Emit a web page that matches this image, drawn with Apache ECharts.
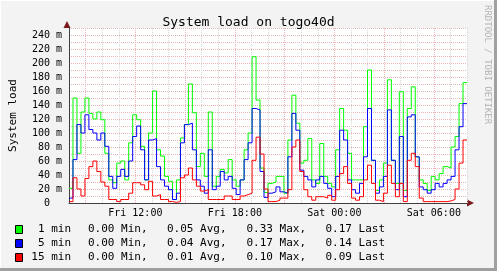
<!DOCTYPE html>
<html>
<head>
<meta charset="utf-8">
<script src="https://cdn.jsdelivr.net/npm/echarts@6/dist/echarts.min.js"></script>
<style>html,body{margin:0;padding:0;background:#f3f3f3}#c{width:497px;height:271px}</style>
</head>
<body>
<div id="c"></div>
<script>
// Time axis: hours since Fri 00:00; samples every 0.24 h from Fri 08:00
const startHour = 8;
const endHour = 32;
const stepHours = 0.24;
const tickHours = [12, 18, 24, 30];
const tickLabels = ['Fri 12:00', 'Fri 18:00', 'Sat 00:00', 'Sat 06:00'];
const majorHours = [9, 12, 15, 18, 21, 24, 27, 30];

// load values in milli-units (m)
const load1 = [21,150,71,130,150,128,120,130,119,71,33,29,57,60,33,86,126,119,81,33,
  100,160,76,67,38,31,5,33,93,112,170,129,52,71,38,130,24,38,48,43,
  62,33,24,33,76,100,209,147,50,15,28,30,38,38,14,90,154,114,57,61,
  92,33,28,85,38,28,23,76,135,104,71,33,33,33,109,190,61,18,33,57,
  176,61,28,159,18,135,166,66,33,28,18,38,33,42,52,50,80,95,142,172];
const load5 = [7,62,112,100,126,105,100,90,100,81,38,21,38,48,38,60,95,110,76,33,
  90,92,52,33,24,19,5,14,86,112,114,76,33,24,14,76,19,24,45,33,
  38,21,12,33,62,86,135,133,45,8,14,16,23,16,14,66,128,104,47,38,
  33,23,33,38,28,21,9,38,104,90,33,19,14,28,66,135,61,14,23,38,
  133,61,19,95,9,123,126,66,23,19,14,19,28,23,28,33,38,76,109,142];
const load15 = [2,36,20,10,35,52,60,45,30,24,5,5,2,5,5,14,29,29,26,19,
  31,10,12,5,5,2,1,2,36,40,50,33,24,17,19,5,5,5,5,10,
  10,5,5,10,12,14,61,94,70,20,2,2,4,7,7,19,80,90,45,19,
  9,4,9,9,7,11,4,19,42,52,28,7,4,9,33,54,28,4,2,14,
  54,28,9,28,2,61,71,52,7,2,2,2,2,2,2,3,5,20,57,90];

const seriesNames = ['1 min', '5 min', '15 min'];
const seriesColors = ['#00ff00', '#0000ff', '#ff0000'];
const statMin = ['0.00', '0.00', '0.00'];
const statAvg = ['0.05', '0.04', '0.01'];
const statMax = ['0.33', '0.17', '0.10'];
const statLast = ['0.17', '0.14', '0.09'];

function toPairs(arr) {
  const out = arr.map((v, i) => [startHour + i * stepHours, v]);
  out.push([endHour, arr[arr.length - 1]]);
  return out;
}

const mono = 'DejaVu Sans Mono';
const chart = echarts.init(document.getElementById('c'), null, {renderer: 'canvas'});

const legendGraphics = [];
const rowY = [229.5, 243.5, 257.5];
for (let k = 0; k < 3; k++) {
  legendGraphics.push({type: 'rect', shape: {x: 15.5, y: rowY[k] - 4, width: 7, height: 8},
    style: {fill: seriesColors[k], stroke: '#000', lineWidth: 1}});
  legendGraphics.push({type: 'text', x: 71, y: rowY[k],
    style: {text: seriesNames[k], font: '11px "' + mono + '"', fill: '#000', align: 'right', verticalAlign: 'middle'}});
  const cols = [[88, statMin[k] + ' Min,'], [167, statAvg[k] + ' Avg,'], [246.5, statMax[k] + ' Max,'], [325.5, statLast[k] + ' Last']];
  cols.forEach(c => legendGraphics.push({type: 'text', x: c[0], y: rowY[k],
    style: {text: c[1], font: '11px "' + mono + '"', fill: '#000', align: 'left', verticalAlign: 'middle'}}));
}

const option = {
  animation: false,
  backgroundColor: '#f3f3f3',
  title: {text: 'System load on togo40d', left: 'center', top: 11,
    textStyle: {fontFamily: mono, fontSize: 13, fontWeight: 'normal', color: '#000'}},
  grid: {left: 67, right: 30, top: 28, bottom: 68, show: true, backgroundColor: '#fff', borderWidth: 0},
  xAxis: {
    type: 'value', min: startHour, max: endHour, interval: 1,
    axisLine: {show: true, onZero: false, lineStyle: {color: '#404040', width: 1}},
    axisTick: {show: false},
    axisLabel: {margin: 5, fontFamily: mono, fontSize: 10, color: '#000',
      formatter: v => { const i = tickHours.indexOf(v); return i >= 0 ? tickLabels[i] : ''; }},
    splitLine: {show: true, lineStyle: {color: '#d6d6d6', type: [1, 1], width: 1}}
  },
  yAxis: {
    type: 'value', min: 0, max: 250, interval: 10,
    name: 'System load', nameLocation: 'middle', nameGap: 50, nameRotate: 90,
    nameTextStyle: {fontFamily: mono, fontSize: 11, color: '#000'},
    axisLine: {show: true, lineStyle: {color: '#404040', width: 1}},
    axisTick: {show: false},
    axisLabel: {margin: 7, fontFamily: mono, fontSize: 10, color: '#000',
      formatter: v => (v % 20 !== 0 || v > 240) ? '' : (v === 0 ? '0\u00a0\u00a0' : v + ' m')},
    splitLine: {show: true, lineStyle: {color: '#e8b4b4', type: [1, 1], width: 1}}
  },
  graphic: [
    {type: 'polygon', shape: {points: [[467, 199.5], [467, 206.5], [474, 203]]}, style: {fill: '#7a1a1a'}},
    {type: 'polygon', shape: {points: [[63.5, 28], [70.5, 28], [67, 21]]}, style: {fill: '#7a1a1a'}},
    {type: 'text', x: 487, y: 5, rotation: -Math.PI / 2,
      style: {text: 'RRDTOOL / TOBI OETIKER', font: '9px "' + mono + '"', fill: '#b4b4b4', align: 'left', verticalAlign: 'middle'}},
    {type: 'line', shape: {x1: 0, y1: 0.5, x2: 497, y2: 0.5}, style: {stroke: '#ffffff', lineWidth: 1}},
    {type: 'line', shape: {x1: 0.5, y1: 0, x2: 0.5, y2: 271}, style: {stroke: '#ffffff', lineWidth: 1}},
    {type: 'line', shape: {x1: 0, y1: 269.5, x2: 497, y2: 269.5}, style: {stroke: '#a0a0a0', lineWidth: 3}},
    {type: 'line', shape: {x1: 495.5, y1: 0, x2: 495.5, y2: 271}, style: {stroke: '#a0a0a0', lineWidth: 3}}
  ].concat(legendGraphics),
  series: [
    {type: 'line', data: [], silent: true,
      markLine: {silent: true, symbol: ['none', 'none'], label: {show: false}, z: 1,
        lineStyle: {color: '#e8b4b4', type: [1, 1], width: 1},
        data: majorHours.map(h => ({xAxis: h}))}},
    {name: seriesNames[0], type: 'line', step: 'end', data: toPairs(load1), showSymbol: false, symbol: 'none',
      lineStyle: {color: seriesColors[0], width: 1}, z: 3},
    {name: seriesNames[1], type: 'line', step: 'end', data: toPairs(load5), showSymbol: false, symbol: 'none',
      lineStyle: {color: seriesColors[1], width: 1}, z: 4},
    {name: seriesNames[2], type: 'line', step: 'end', data: toPairs(load15), showSymbol: false, symbol: 'none',
      lineStyle: {color: seriesColors[2], width: 1}, z: 5}
  ]
};
chart.setOption(option);
</script>
</body>
</html>
